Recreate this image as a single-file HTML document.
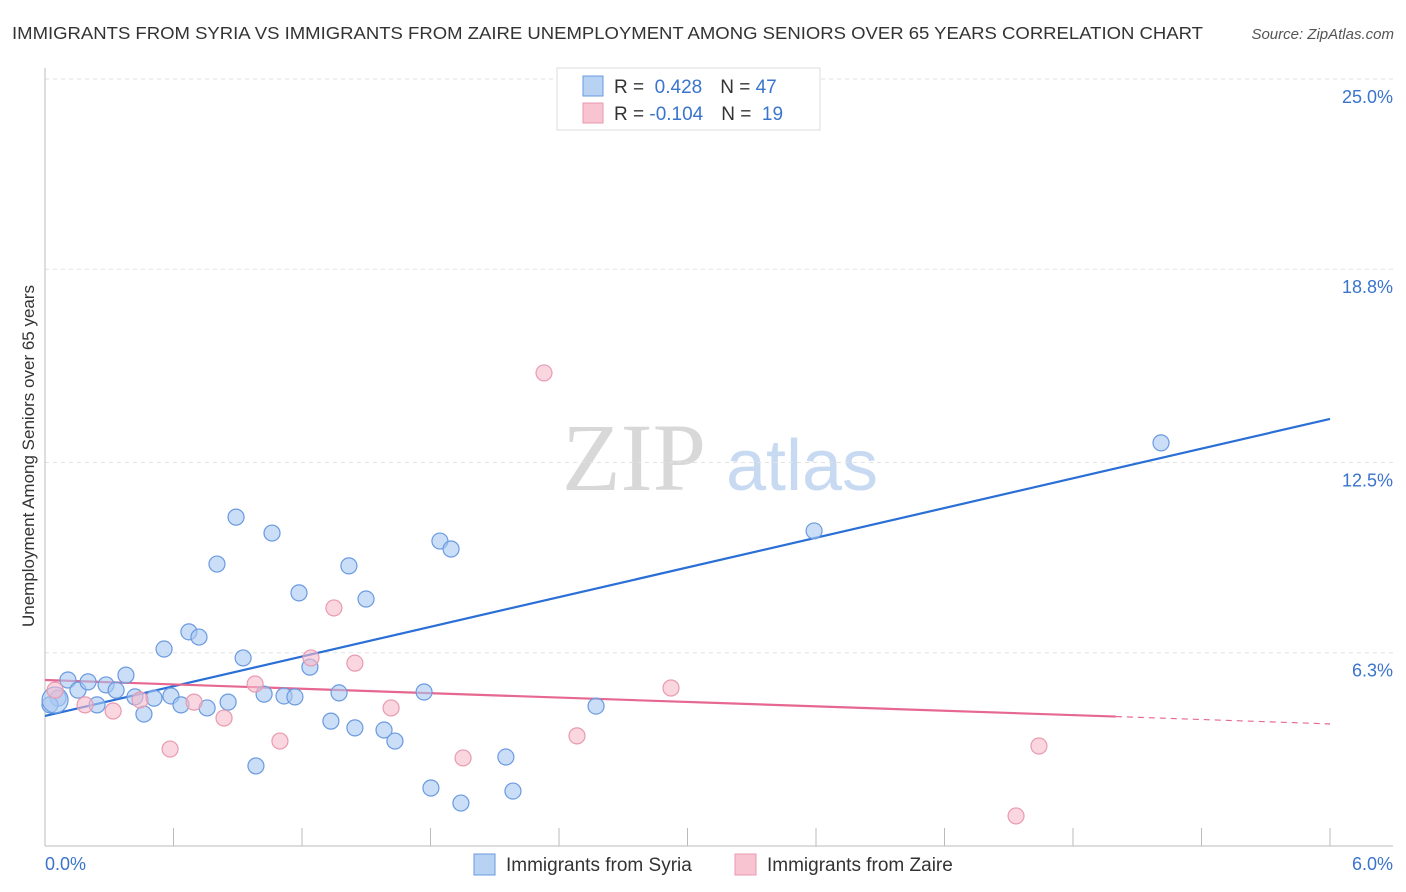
<!DOCTYPE html>
<html><head><meta charset="utf-8"><style>
body{margin:0;background:#fff;font-family:"Liberation Sans",sans-serif;}
svg{display:block}
</style></head><body>
<svg id="chart" width="1406" height="892" xmlns="http://www.w3.org/2000/svg">
<text x="12" y="39" font-size="17.5" fill="#333" textLength="1191" lengthAdjust="spacingAndGlyphs">IMMIGRANTS FROM SYRIA VS IMMIGRANTS FROM ZAIRE UNEMPLOYMENT AMONG SENIORS OVER 65 YEARS CORRELATION CHART</text>
<text x="1394" y="39" font-size="15" fill="#555" font-style="italic" text-anchor="end">Source: ZipAtlas.com</text>
<g>
<text x="634" y="490" font-size="96" font-family="Liberation Serif,serif" fill="#d8d8d8" text-anchor="middle">ZIP</text>
<text x="802" y="490" font-size="72" fill="#c8daf2" text-anchor="middle">atlas</text>
</g>
<g id="grid"></g>
<g id="axes"></g>
<g id="lines"></g>
<g id="points"></g>
<text transform="translate(34,456) rotate(-90)" font-size="17" fill="#333" text-anchor="middle">Unemployment Among Seniors over 65 years</text>
<g>
<rect x="557" y="68" width="263" height="62" fill="#fff" stroke="#ddd"/>
<rect x="583" y="76" width="20" height="20" fill="#b8d2f4" stroke="#6a9ae0"/>
<rect x="583" y="103" width="20" height="20" fill="#f8c4d2" stroke="#e89ab0"/>
<text x="614" y="93" font-size="19" fill="#333">R = <tspan fill="#3a74cc">&#160;0.428</tspan><tspan dx="18">N = </tspan><tspan fill="#3a74cc">47</tspan></text>
<text x="614" y="120" font-size="19" fill="#333">R = <tspan fill="#3a74cc">-0.104</tspan><tspan dx="18">N = </tspan><tspan fill="#3a74cc">&#160;19</tspan></text>
</g>
<g>
<rect x="474" y="854" width="21" height="21" fill="#b8d2f4" stroke="#6a9ae0"/>
<text x="506" y="871" font-size="19" fill="#333">Immigrants from Syria</text>
<rect x="735" y="854" width="21" height="21" fill="#f8c4d2" stroke="#e89ab0"/>
<text x="767" y="871" font-size="19" fill="#333">Immigrants from Zaire</text>
</g>
</svg>
<script>
const yTicks=[6.3,12.5,18.8,25.0];
const yTickLabels=["6.3%","12.5%","18.8%","25.0%"];
const xTickLabels=["0.0%","6.0%"];
const syriaX=[0.061,0.107,0.154,0.201,0.243,0.285,0.332,0.378,0.420,0.462,0.509,0.556,0.588,0.635,0.672,0.719,0.757,0.803,0.855,0.892,0.925,0.985,1.023,1.060,1.116,1.167,1.186,1.237,1.335,1.373,1.419,1.447,1.499,1.583,1.634,1.770,1.802,1.844,1.896,1.942,2.152,2.185,2.573,3.591,5.211,0.023,0.047];
const syriaY=[4.82,5.41,5.08,5.35,4.60,5.25,5.08,5.57,4.86,4.30,4.82,6.42,4.89,4.60,6.98,6.81,4.50,9.19,4.69,10.72,6.13,2.61,4.95,10.20,4.89,4.86,8.25,5.83,4.07,4.99,9.13,3.85,8.05,3.78,3.42,5.02,1.89,9.94,9.68,1.40,2.90,1.79,4.56,10.27,13.14,4.60,4.76];
const zaireX=[0.047,0.187,0.318,0.444,0.584,0.696,0.836,0.981,1.097,1.242,1.349,1.447,1.616,1.952,2.330,2.484,2.923,4.534,4.641];
const zaireY=[5.08,4.60,4.40,4.76,3.16,4.69,4.17,5.28,3.42,6.13,7.76,5.96,4.50,2.87,15.42,3.59,5.15,0.98,3.26];
const syriaTrend=[4.24,13.92];
const zaireTrend=[5.41,3.98];
const zaireSolidEnd=5.0;
const X0=45,X1=1330,Y0=846,YS=30.68;
const sx=v=>X0+(X1-X0)*v/6, sy=v=>Y0-v*YS;
const NS="http://www.w3.org/2000/svg";
function mk(tag,attrs,parent){const e=document.createElementNS(NS,tag);for(const k in attrs)e.setAttribute(k,attrs[k]);document.getElementById(parent).appendChild(e);return e;}
yTicks.forEach((t,i)=>{
 const g=mk('line',{x1:X0,x2:1393,y1:sy(t),y2:sy(t),stroke:'#e2e2e2','stroke-dasharray':'4,4'},'grid');
 
 
 const l=mk('text',{x:1393,y:sy(t)+24,'font-size':18,fill:'#3a74cc','text-anchor':'end'},'grid');
 l.textContent=yTickLabels[i];
 
 
});
const topGrid=mk('line',{x1:X0,x2:1393,y1:79,y2:79,stroke:'#e2e2e2','stroke-dasharray':'4,4'},'grid');


const ya=mk('line',{x1:X0,x2:X0,y1:68,y2:Y0,stroke:'#bbb'},'axes');


const xa=mk('line',{x1:X0,x2:1393,y1:Y0,y2:Y0,stroke:'#bbb'},'axes');


for(let i=1;i<=10;i++){const t=mk('line',{x1:sx(i*0.6),x2:sx(i*0.6),y1:Y0-18,y2:Y0,stroke:'#bbb'},'axes');
 
 }
const xl0=mk('text',{x:X0,y:870,'font-size':18,fill:'#3a74cc'},'axes');xl0.textContent=xTickLabels[0];


const xl1=mk('text',{x:1393,y:870,'font-size':18,fill:'#3a74cc','text-anchor':'end'},'axes');xl1.textContent=xTickLabels[1];


syriaX.forEach((x,i)=>{const big=i===syriaX.length-1;
 const c=mk('circle',{cx:sx(x),cy:sy(syriaY[i]),r:big?13:8,fill:'rgba(168,200,242,0.6)',stroke:'#6a9ae0','stroke-width':1.2},'points');
 
 });
zaireX.forEach((x,i)=>{
 const c=mk('circle',{cx:sx(x),cy:sy(zaireY[i]),r:8,fill:'rgba(246,186,204,0.6)',stroke:'#e89ab0','stroke-width':1.2},'points');
 
 });
const bl=mk('line',{x1:sx(0),y1:sy(syriaTrend[0]),x2:sx(6),y2:sy(syriaTrend[1]),stroke:'#2a6fd6','stroke-width':2.2},'lines');


const zAt=x=>zaireTrend[0]+(zaireTrend[1]-zaireTrend[0])*x/6;
const pl=mk('line',{x1:sx(0),y1:sy(zAt(0)),x2:sx(zaireSolidEnd),y2:sy(zAt(zaireSolidEnd)),stroke:'#e6678f','stroke-width':2.2},'lines');


const pd=mk('line',{x1:sx(zaireSolidEnd),y1:sy(zAt(zaireSolidEnd)),x2:sx(6),y2:sy(zAt(6)),stroke:'#e6678f','stroke-width':1.2,'stroke-dasharray':'6,5'},'lines');


</script>
</body></html>
